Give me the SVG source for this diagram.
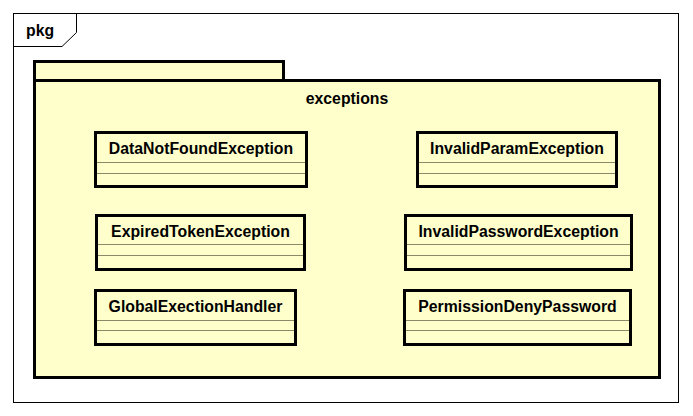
<svg xmlns="http://www.w3.org/2000/svg" width="693" height="416" viewBox="0 0 693 416">
<style>
  text { font-family: "Liberation Sans", Arial, sans-serif; font-weight: bold; font-size: 15.8px; fill: #000; }
  .cls { fill: #FFFFCC; stroke: #000; stroke-width: 3; }
  .sep { stroke: #8a8a6a; stroke-width: 1; }
  .pkg { fill: #FFFFCC; stroke: #000; stroke-width: 3; }
</style>
<rect x="0" y="0" width="693" height="416" fill="#fff"/>
<g id="frame">
  <rect x="13.5" y="13.5" width="665" height="389" fill="#fff" stroke="#000" stroke-width="1"/>
  <path d="M13.5,46.5 H62 L76.5,32.5 V13.5" fill="none" stroke="#000" stroke-width="1"/>
  <text x="26" y="36">pkg</text>
</g>
<g id="package-exceptions">
  <rect class="pkg" x="34.5" y="61.5" width="249" height="19"/>
  <rect class="pkg" x="34.5" y="80.5" width="625" height="297"/>
  <text x="347" y="103.5" text-anchor="middle">exceptions</text>
</g>
<g id="DataNotFoundException">
  <rect class="cls" x="95.5" y="132.5" width="211" height="54"/>
  <line class="sep" x1="97" y1="162.5" x2="305" y2="162.5"/>
  <line class="sep" x1="97" y1="173.5" x2="305" y2="173.5"/>
  <text x="201" y="154" text-anchor="middle">DataNotFoundException</text>
</g>
<g id="ExpiredTokenException">
  <rect class="cls" x="96.5" y="215.5" width="208" height="54"/>
  <line class="sep" x1="98" y1="244.5" x2="303" y2="244.5"/>
  <line class="sep" x1="98" y1="255.5" x2="303" y2="255.5"/>
  <text x="200.5" y="237" text-anchor="middle">ExpiredTokenException</text>
</g>
<g id="GlobalExectionHandler">
  <rect class="cls" x="95.5" y="290.5" width="200" height="54"/>
  <line class="sep" x1="97" y1="320.5" x2="294" y2="320.5"/>
  <line class="sep" x1="97" y1="330.5" x2="294" y2="330.5"/>
  <text x="195.5" y="312" text-anchor="middle">GlobalExectionHandler</text>
</g>
<g id="InvalidParamException">
  <rect class="cls" x="417.5" y="132.5" width="199" height="54"/>
  <line class="sep" x1="419" y1="162.5" x2="615" y2="162.5"/>
  <line class="sep" x1="419" y1="173.5" x2="615" y2="173.5"/>
  <text x="517" y="154" text-anchor="middle">InvalidParamException</text>
</g>
<g id="InvalidPasswordException">
  <rect class="cls" x="405.5" y="215.5" width="226" height="54"/>
  <line class="sep" x1="407" y1="244.5" x2="630" y2="244.5"/>
  <line class="sep" x1="407" y1="255.5" x2="630" y2="255.5"/>
  <text x="518.5" y="237" text-anchor="middle">InvalidPasswordException</text>
</g>
<g id="PermissionDenyPassword">
  <rect class="cls" x="404.5" y="290.5" width="226" height="54"/>
  <line class="sep" x1="406" y1="320.5" x2="629" y2="320.5"/>
  <line class="sep" x1="406" y1="330.5" x2="629" y2="330.5"/>
  <text x="517.5" y="312" text-anchor="middle">PermissionDenyPassword</text>
</g>
<g id="connectors"/>
</svg>
